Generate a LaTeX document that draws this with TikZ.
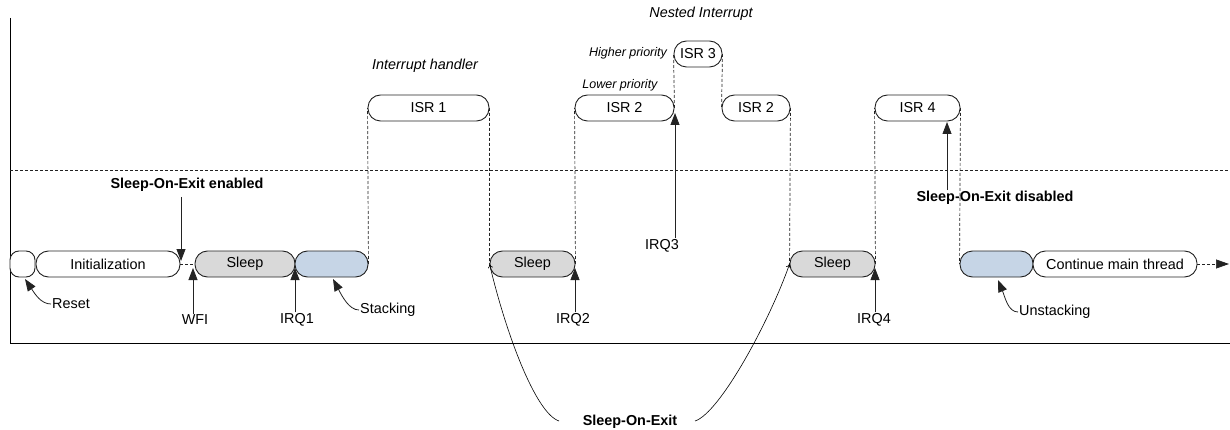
\documentclass[tikz,border=0pt]{standalone}
\usepackage{fontspec}
\setmainfont{Liberation Sans}
\usetikzlibrary{arrows.meta,calc}
\definecolor{sleepgray}{RGB}{217,217,217}
\definecolor{stackblue}{RGB}{198,213,230}
\definecolor{linegray}{RGB}{35,35,35}
\begin{document}
\begin{tikzpicture}[x=1pt,y=-1pt,
  every node/.style={font=\fontsize{14.4}{16}\selectfont, inner sep=1pt},
  box/.style={draw=linegray, line width=0.9pt, rounded corners=12.5pt,
    minimum height=26pt, inner sep=0pt, fill=white},
  sleepbox/.style={box, fill=sleepgray},
  stackbox/.style={box, fill=stackblue},
  conn/.style={draw=linegray, line width=0.7pt, dash pattern=on 3pt off 2pt},
  arr/.style={draw=linegray, line width=0.8pt, -{Triangle[length=12pt,width=9pt]}},
  thinarr/.style={draw=black, line width=0.6pt, -{To[length=4pt,width=5pt]}},
  note/.style={font=\fontsize{14.4}{16}\selectfont\itshape},
  smallnote/.style={font=\fontsize{12.5}{14}\selectfont\itshape},
  boldnote/.style={font=\fontsize{14.4}{16}\selectfont\bfseries}
]
\useasboundingbox (0,0) rectangle (1230,430);

% axes
\coordinate (axtop) at (10,18);
\coordinate (axorig) at (10,343);
\coordinate (axright) at (1230,343);
\draw[black, line width=0.8pt] (axtop) -- (axorig) -- (axright);
\coordinate (hl) at (10,170);
\coordinate (hr) at (1230,170);
\draw[conn] (hl) -- (hr);

% boxes
\node[box, rounded corners=9pt, minimum width=25] (reset) at (22.5,264) {};
\node[box, minimum width=144] (init) at (108,264) {Initialization};
\node[sleepbox, minimum width=100] (sleep1) at (245,264) {Sleep};
\node[stackbox, minimum width=73] (stack) at (331.5,264) {};
\node[box, minimum width=121] (isr1) at (428.5,108) {ISR 1};
\node[sleepbox, minimum width=85] (sleep2) at (532.5,264) {Sleep};
\node[box, minimum width=99] (isr2) at (624.5,108) {ISR 2};
\node[box, minimum width=48] (isr3) at (698,54) {ISR 3};
\node[box, minimum width=68] (isr2b) at (756,108) {ISR 2};
\node[sleepbox, minimum width=85] (sleep3) at (832.5,264) {Sleep};
\node[box, minimum width=85] (isr4) at (917.5,108) {ISR 4};
\node[stackbox, minimum width=73] (unstack) at (996.5,264) {};
\node[box, minimum width=164] (cont) at (1115,264) {Continue main thread};
\coordinate (endarr) at (1229,264);

% dashed connections
\draw[conn] (init.east) -- (sleep1.west);
\draw[conn] (stack.east) -- (isr1.west);
\draw[conn] (isr1.east) -- (sleep2.west);
\draw[conn] (sleep2.east) -- (isr2.west);
\draw[conn] (isr2.east) -- (isr3.west);
\draw[conn] (isr3.east) -- (isr2b.west);
\draw[conn] (isr2b.east) -- (sleep3.west);
\draw[conn] (sleep3.east) -- (isr4.west);
\draw[conn] (isr4.east) -- (unstack.west);
\draw[conn, -{Triangle[length=13pt,width=9pt]}] (cont.east) -- (endarr);

% top labels
\node[note] (ih) at (425,66) {Interrupt handler};
\node[note] (ni) at (701,14) {Nested Interrupt};
\node[smallnote] (hp) at (628,53) {Higher priority};
\node[smallnote] (lp) at (620,85) {Lower priority};

% Sleep-On-Exit enabled
\node[boldnote] (soen) at (187,185) {Sleep-On-Exit enabled};
\coordinate (soentip) at (181,261);
\draw[arr] (soentip |- soen.south) ++(0,4) -- (soentip);

% Sleep-On-Exit disabled
\node[boldnote] (sodis) at (995,198) {Sleep-On-Exit disabled};
\coordinate (sodistip) at (947,122);
\draw[arr] (sodistip |- sodis.north) -- (sodistip);

% IRQ labels and arrows
\node (wfi) at (195,320) {WFI};
\coordinate (wfitip) at (193,268);
\draw[arr] (wfitip |- wfi.north) -- (wfitip);

\node (irq1) at (297,320) {IRQ1};
\coordinate (irq1tip) at (295,268);
\draw[arr] (irq1tip |- irq1.north) -- (irq1tip);

\node (irq2) at (573,320) {IRQ2};
\coordinate (irq2tip) at (575,268);
\draw[arr] (irq2tip |- irq2.north) -- (irq2tip);

\node (irq3) at (662,246) {IRQ3};
\coordinate (irq3tip) at (675,113);
\draw[arr] (irq3tip |- irq3.north) -- (irq3tip);

\node (irq4) at (874,320) {IRQ4};
\coordinate (irq4tip) at (875,268);
\draw[arr] (irq4tip |- irq4.north) -- (irq4tip);

% Reset / Stacking / Unstacking
\node[anchor=west] (resetl) at (51,304) {Reset};
\coordinate (resettip) at (25,279);
\draw[arr] (resetl.west) .. controls (41,304) and (35,294) .. (resettip);

\node[anchor=west] (stackl) at (359,310) {Stacking};
\coordinate (stacktip) at (333,279);
\draw[arr] (stackl.west) .. controls (349,310) and (342,296) .. (stacktip);

\node[anchor=west] (unstackl) at (1018,312) {Unstacking};
\coordinate (unstacktip) at (998,280);
\draw[arr] (unstackl.west) .. controls (1008,312) and (1005,297) .. (unstacktip);

% Sleep-On-Exit bottom
\node[boldnote] (soe) at (630,422) {Sleep-On-Exit};
\coordinate (soel) at (559,421);
\coordinate (soer) at (695,421);
\draw[thinarr] (soel) .. controls (535,413) and (505,330) .. (sleep2.west);
\draw[thinarr] (soer) .. controls (720,413) and (770,320) .. (sleep3.west);
\end{tikzpicture}
\end{document}
